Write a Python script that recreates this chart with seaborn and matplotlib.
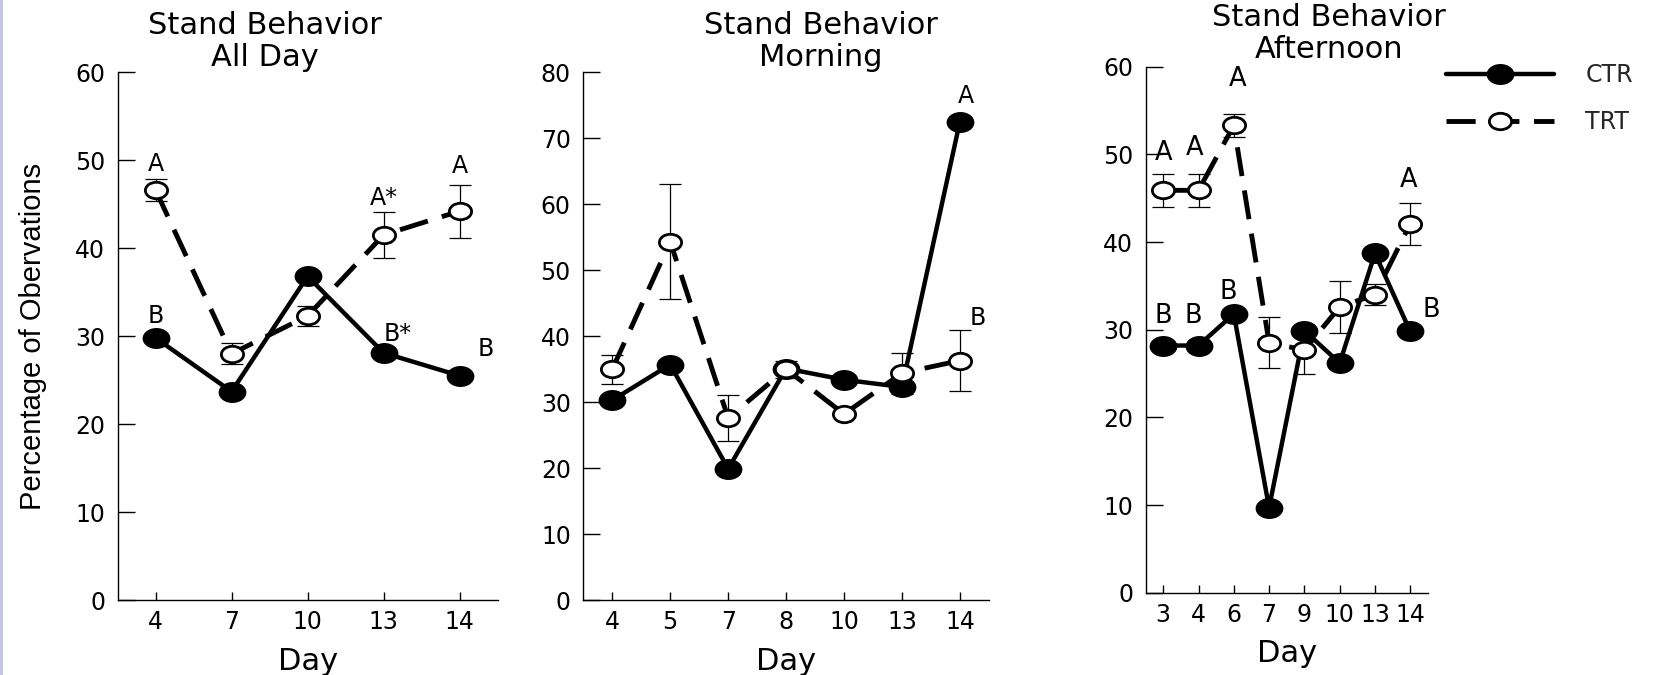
import numpy as np
import pandas as pd
import matplotlib
matplotlib.use("Agg")
import matplotlib.pyplot as plt
from matplotlib.path import Path
from matplotlib.patches import Rectangle
from matplotlib.transforms import Affine2D
from matplotlib import font_manager
import seaborn as sns

# ---------------- data ----------------
days_all = ["4", "7", "10", "13", "14"]
ctr_all = [29.8, 23.7, 36.8, 28.1, 25.5]
trt_all = [46.6, 28.0, 32.3, 41.5, 44.2]
err_all = [1.3, 1.2, 1.15, 2.65, 3.0]
letters_all = [("A", 0, 49.6), ("B", 0, 32.3), ("A*", 3, 45.7),
               ("B*", 3.18, 30.2), ("A", 4, 49.3), ("B", 4.34, 28.5)]

days_morn = ["4", "5", "7", "8", "10", "13", "14"]
ctr_morn = [30.3, 35.7, 19.9, 35.1, 33.4, 32.3, 72.5]
trt_morn = [35.0, 54.3, 27.6, 35.0, 28.2, 34.4, 36.3]
err_morn = [2.2, 8.7, 3.5, 1.3, 0.5, 3.1, 4.6]
letters_morn = [("A", 6.1, 76.4), ("B", 6.3, 42.8)]

days_aft = ["3", "4", "6", "7", "9", "10", "13", "14"]
ctr_aft = [28.2, 28.2, 31.8, 9.7, 29.9, 26.2, 38.7, 29.8]
trt_aft = [45.9, 45.9, 53.3, 28.5, 27.7, 32.6, 34.0, 42.1]
err_aft = [1.9, 1.9, 1.3, 2.9, 2.7, 3.0, 1.2, 2.4]
letters_aft = [("A", 0, 50.2), ("A", 0.9, 50.7), ("A", 2.12, 58.6), ("A", 6.94, 47.1),
               ("B", 0, 31.6), ("B", 0.84, 31.6), ("B", 1.85, 34.3), ("B", 7.6, 32.3)]

subtitles = ["All Day", "Morning", "Afternoon"]
ymax = [60, 80, 60]
series_labels = ["CTR", "TRT"]

# ---------------- style ----------------
sns.set_theme(style="white")
plt.rcParams["font.family"] = ["DejaVu Sans"]
names = {f.name for f in font_manager.fontManager.ttflist}
narrow = "Liberation Sans Narrow" in names
ylab_font = "Liberation Sans Narrow" if narrow else "Liberation Sans"
ylab_size = 23 if narrow else 21

ell = Path.unit_circle().transformed(Affine2D().scale(1.35, 1.0))

fig = plt.figure(figsize=(16.6, 6.75), dpi=100)
fig.add_artist(Rectangle((0, 0), 3 / 1660, 1, transform=fig.transFigure,
                         facecolor="#c4c4e4", edgecolor="none"))
axes_rects = [
    (0.0708, 0.1107, 0.2290, 0.7826),
    (0.3514, 0.1107, 0.2443, 0.7826),
    (0.6901, 0.1218, 0.1701, 0.7794),
]
title_x = [0.388, 0.585, 0.65]
title_y = [1.0, 1.0, 1.006]

panels = [
    (days_all, ctr_all, trt_all, err_all, letters_all, 17),
    (days_morn, ctr_morn, trt_morn, err_morn, letters_morn, 17),
    (days_aft, ctr_aft, trt_aft, err_aft, letters_aft, 18.5),
]

handles = None
for i, (days, ctr, trt, err, letters, lfs) in enumerate(panels):
    ax = fig.add_axes(axes_rects[i])
    pos = np.arange(len(days))
    df = pd.DataFrame({"pos": pos, "CTR": ctr, "TRT": trt})

    sns.lineplot(data=df, x="pos", y="CTR", ax=ax, color="black", linewidth=3.2,
                 marker=ell, markersize=19, markerfacecolor="black",
                 markeredgecolor="black", markeredgewidth=1, zorder=3,
                 label="CTR", legend=False)
    ax.errorbar(pos, trt, yerr=err, fmt="none", ecolor="black",
                elinewidth=0.9, capsize=8, capthick=0.9, zorder=2)
    sns.lineplot(data=df, x="pos", y="TRT", ax=ax, color="black", linewidth=3.5,
                 linestyle=(0, (6, 3)), marker=ell, markersize=16,
                 markerfacecolor="white", markeredgecolor="black",
                 markeredgewidth=2, zorder=4, label="TRT", legend=False)

    for txt, xp, yp in letters:
        ax.text(xp, yp, txt, ha="center", va="center", fontsize=lfs, color="black")

    ax.set_xlim(-0.5, len(days) - 0.5)
    ax.set_ylim(0, ymax[i])
    ax.set_xticks(pos)
    ax.set_xticklabels(days)
    ax.set_yticks(np.arange(0, ymax[i] + 1, 10))
    sns.despine(ax=ax)
    for s in ["left", "bottom"]:
        ax.spines[s].set_linewidth(1.0)
        ax.spines[s].set_color("black")
    ax.tick_params(axis="y", direction="in", length=12, width=1, pad=9,
                   labelsize=17, colors="black", left=True)
    ax.tick_params(axis="x", direction="in", length=6, width=1, pad=7,
                   labelsize=17, colors="black", bottom=True)
    ax.set_xlabel("Day", fontsize=22, color="black")
    ax.xaxis.set_label_coords(0.5, -0.088)
    ax.xaxis.label.set_va("top")
    ax.set_ylabel("")
    ax.text(title_x[i], title_y[i], "Stand Behavior\n" + subtitles[i],
            transform=ax.transAxes, ha="center", va="bottom", fontsize=22,
            linespacing=1.12, color="black")
    if i == 0:
        ax.set_ylabel("Percentage of Obervations", fontsize=ylab_size,
                      family=[ylab_font, "DejaVu Sans"], color="black")
        ax.yaxis.set_label_coords(-0.185, 0.5)
    if i == 2:
        handles = ax.get_lines()

h_ctr = [l for l in handles if l.get_label() == "CTR"][0]
h_trt = [l for l in handles if l.get_label() == "TRT"][0]
fig.legend([h_ctr, h_trt], series_labels, loc="upper left",
           bbox_to_anchor=(0.871, 0.906), frameon=False, fontsize=17,
           handlelength=4.6, handletextpad=1.3, labelspacing=0.95, borderpad=0,
           borderaxespad=0)

fig.savefig("out.png", dpi=100, facecolor="white")
